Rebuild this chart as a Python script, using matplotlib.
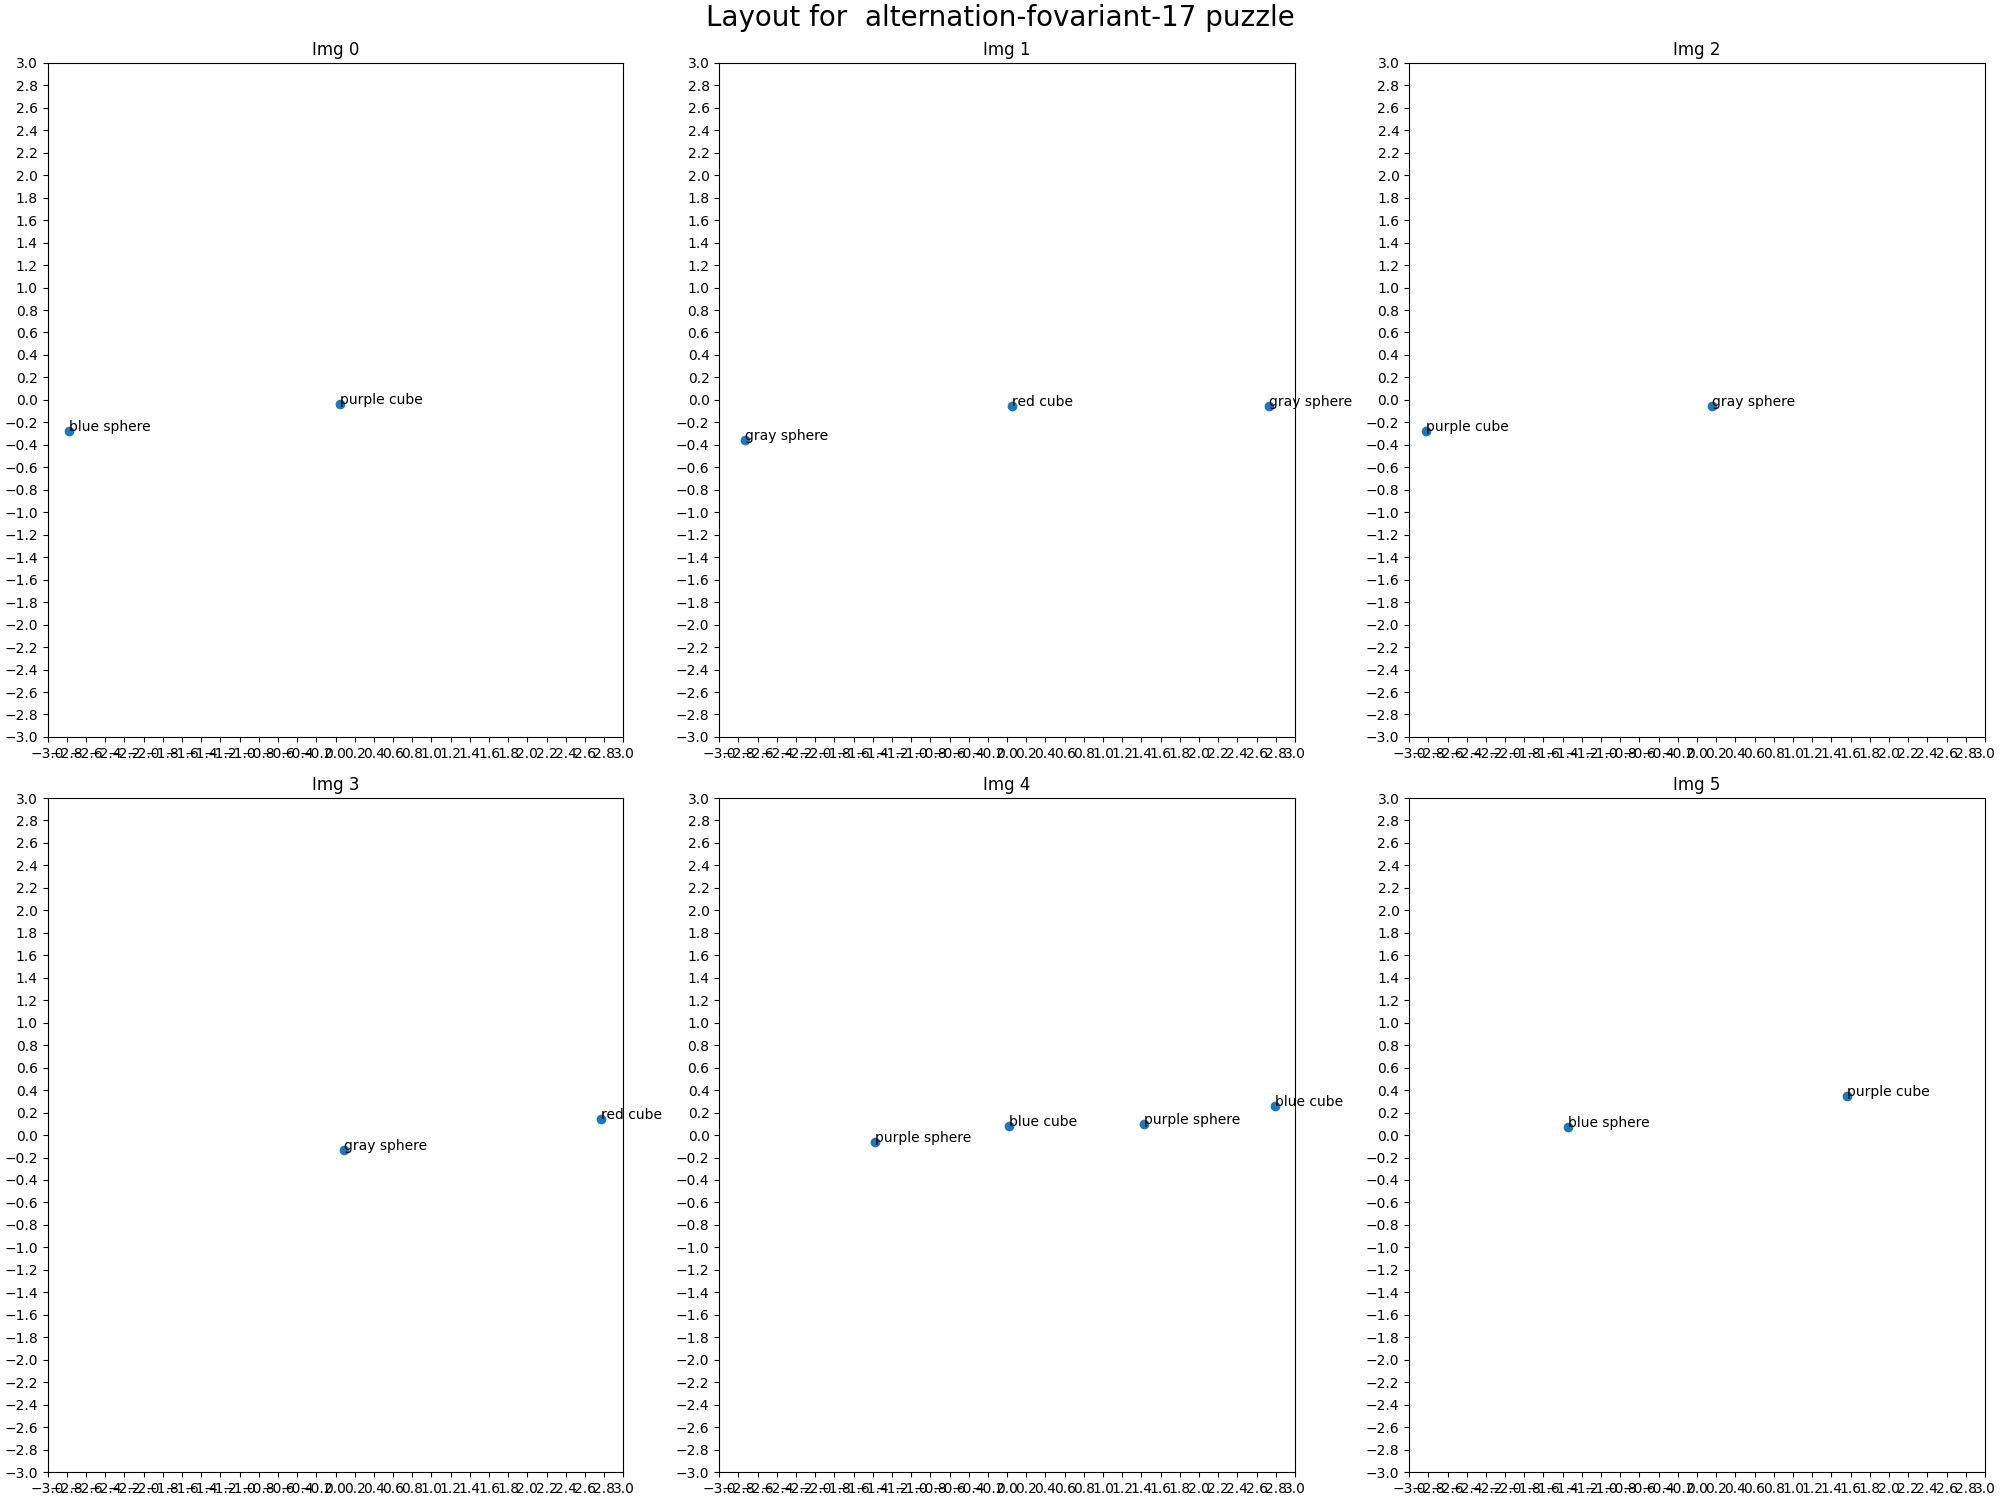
import numpy as np
import matplotlib
matplotlib.use("Agg")
import matplotlib.pyplot as plt

# object positions per image
img0_x = [-2.78, 0.05]
img0_y = [-0.28, -0.04]
img0_labels = ["blue sphere", "purple cube"]

img1_x = [-2.73, 0.05, 2.73]
img1_y = [-0.36, -0.05, -0.05]
img1_labels = ["gray sphere", "red cube", "gray sphere"]

img2_x = [-2.82, 0.16]
img2_y = [-0.28, -0.05]
img2_labels = ["purple cube", "gray sphere"]

img3_x = [0.09, 2.77]
img3_y = [-0.13, 0.14]
img3_labels = ["gray sphere", "red cube"]

img4_x = [-1.38, 0.02, 1.43, 2.79]
img4_y = [-0.06, 0.08, 0.10, 0.26]
img4_labels = ["purple sphere", "blue cube", "purple sphere", "blue cube"]

img5_x = [-1.34, 1.56]
img5_y = [0.07, 0.35]
img5_labels = ["blue sphere", "purple cube"]

puzzle_name = "alternation-fovariant-17"

images = [
    (img0_x, img0_y, img0_labels),
    (img1_x, img1_y, img1_labels),
    (img2_x, img2_y, img2_labels),
    (img3_x, img3_y, img3_labels),
    (img4_x, img4_y, img4_labels),
    (img5_x, img5_y, img5_labels),
]

ticks = np.round(np.arange(-3, 3.01, 0.2), 1)

fig, axes = plt.subplots(2, 3, figsize=(20, 15), layout="constrained")
for i, ax in enumerate(axes.flat):
    xs, ys, labels = images[i]
    ax.scatter(xs, ys)
    for x, y, lab in zip(xs, ys, labels):
        ax.annotate(lab, (x, y))
    ax.set_xlim(-3, 3)
    ax.set_ylim(-3, 3)
    ax.set_xticks(ticks)
    ax.set_yticks(ticks)
    ax.set_title(f"Img {i}")

fig.suptitle(f"Layout for  {puzzle_name} puzzle", fontsize=20)
plt.savefig("out.png", dpi=100)
